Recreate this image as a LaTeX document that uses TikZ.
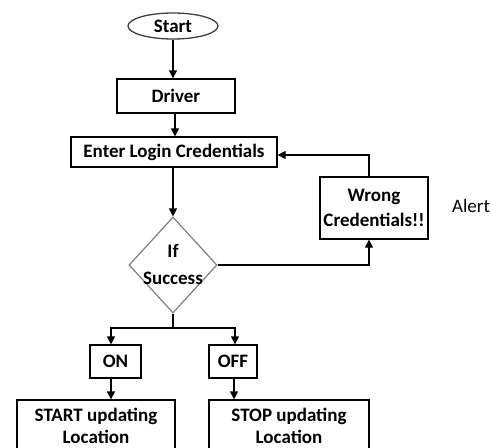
\documentclass[tikz,border=0pt]{standalone}
\usepackage{fontspec}
\setmainfont{Carlito}
\usetikzlibrary{shapes.geometric,arrows.meta}
\begin{document}
\begin{tikzpicture}[x=1pt,y=-1pt,
  box/.style={draw=black,line width=1.3pt,rectangle,inner sep=0pt,
    font=\fontsize{19}{25}\selectfont\bfseries,align=center},
  arr/.style={-{Triangle[length=8pt,width=8pt]},line width=1.3pt},
  ln/.style={line width=1.3pt},
  lbl/.style={inner sep=0pt,font=\fontsize{19}{27}\selectfont\bfseries,align=center}]
\clip (0,0) rectangle (491,448);
\fill[white] (0,0) rectangle (491,448);
% nodes
\node[ellipse,draw=black!75,line width=1.3pt,minimum width=90pt,minimum height=26pt,inner sep=0pt,
  font=\fontsize{19}{25}\selectfont\bfseries] (start) at (173,26) {Start};
\node[box,minimum width=118pt,minimum height=34pt] (driver) at (176,96) {Driver};
\node[box,minimum width=206pt,minimum height=30pt] (enter) at (174,152) {Enter Login Credentials};
\node[diamond,draw=black!50,line width=1.2pt,minimum width=88pt,minimum height=96pt,inner sep=0pt] (diam) at (173,265) {};
\node[lbl] (diamtext) at (173,264) {If\\Success};
\node[box,minimum width=108pt,minimum height=62pt] (wrong) at (374,208) {Wrong\\Credentials!!};
\node[inner sep=0pt,font=\fontsize{19}{25}\selectfont] (alert) at (471,206) {Alert};
\node[box,minimum width=51pt,minimum height=33pt] (on) at (115.5,361.5) {ON};
\node[box,minimum width=48pt,minimum height=33pt] (off) at (233,361.5) {OFF};
\node[box,minimum width=158pt,minimum height=52pt,font=\fontsize{19}{22}\selectfont\bfseries] (startupd) at (96,426) {START updating\\Location};
\node[box,minimum width=160pt,minimum height=52pt,font=\fontsize{19}{22}\selectfont\bfseries] (stopupd) at (289,426) {STOP updating\\Location};
% connectors
\draw[arr] (start.south) -- (start.south |- driver.north);
\draw[arr] ([xshift=-1pt]driver.south) -- ([xshift=-1pt]driver.south |- enter.north);
\draw[arr] (enter.south -| diam.north) -- (diam.north);
\draw[arr] (diam.east) -| ([xshift=-5pt]wrong.south);
\draw[arr] ([xshift=-5pt]wrong.north) |- ([yshift=-3pt]enter.east);
\coordinate (br) at (173,328);
\draw[ln] (diam.south) -- (br);
\draw[arr] (br) -| ([xshift=-4.5pt]on.north);
\draw[arr] (br) -| ([xshift=2pt]off.north);
\draw[arr] ([xshift=-4.5pt]on.south) -- ([xshift=-4.5pt]on.south |- startupd.north);
\draw[arr] ([xshift=1pt]off.south) -- ([xshift=1pt]off.south |- stopupd.north);
\end{tikzpicture}
\end{document}
